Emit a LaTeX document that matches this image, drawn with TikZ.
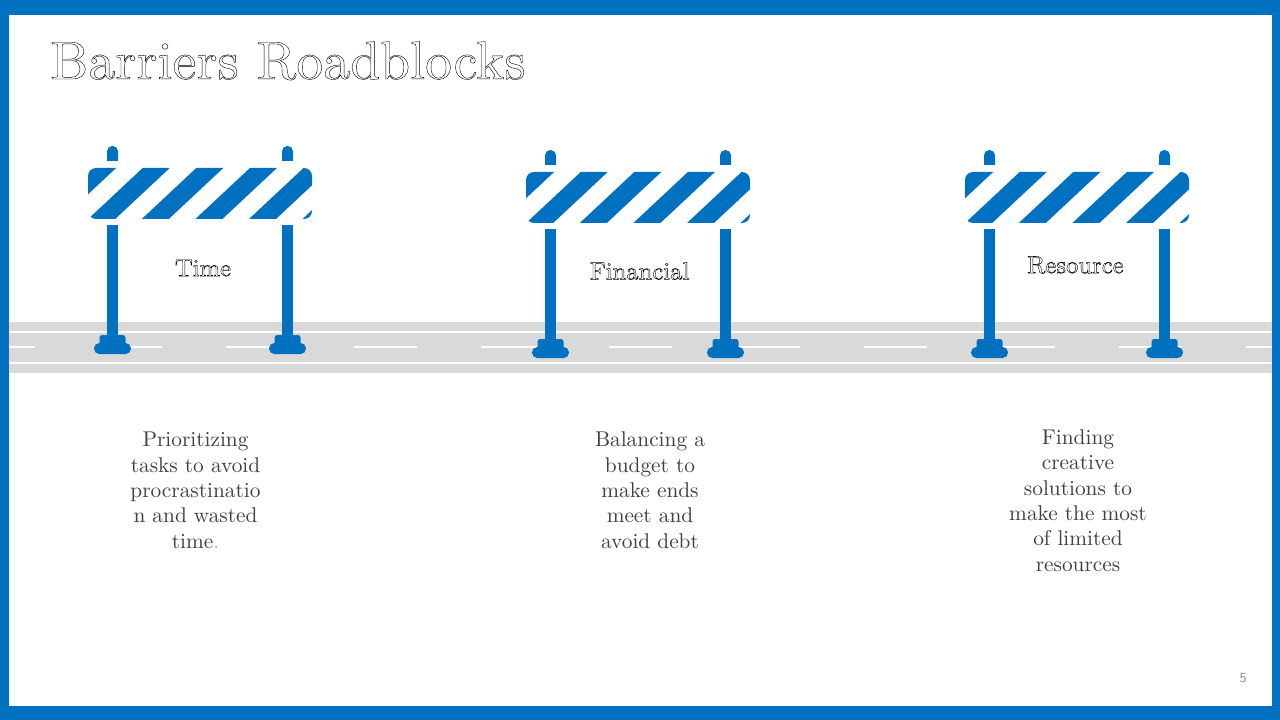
\documentclass[tikz,border=0pt]{standalone}
\usepackage{fontspec}
\setmainfont{Latin Modern Roman}[OpticalSize=10]
\usetikzlibrary{calc}
\definecolor{barblue}{HTML}{0070C0}
\definecolor{roadgray}{HTML}{D9D9D9}
\definecolor{bodygray}{HTML}{404040}
\definecolor{pagegray}{HTML}{898989}
\newcommand{\outlined}[1]{\special{pdf:code q 1 Tr 0.3 w}#1\special{pdf:code Q}}
\tikzset{
  bodytext/.style={align=center,text=bodygray,inner sep=0pt,font=\fontsize{16}{19}\selectfont},
  labeltext/.style={inner sep=0pt,font=\fontsize{18.5}{20}\selectfont},
  bluepart/.style={fill=barblue,draw=none},
  roadline/.style={white,line width=1.5pt},
}
\begin{document}
\begin{tikzpicture}[x=0.75pt,y=-0.75pt]
\useasboundingbox (0,0) rectangle (1280,720);
%frame
\fill[barblue] (0,0) rectangle (1280,720);
\fill[white] (9,15) rectangle (1272,706);
%road
\fill[roadgray] (9,322) rectangle (1272,373);
\draw[roadline] (9,331.5)--(1272,331.5);
\draw[roadline] (9,363)--(1272,363);
\begin{scope}
\clip (9,322) rectangle (1272,373);
\foreach \k in {-1,...,9}{
  \draw[roadline] (-29+127.5*\k+127.5,347)--++(63.5,0);
}
\end{scope}
%barriers
\foreach \bx/\by in {0/0,438/4,877/4}{
\begin{scope}[shift={(\bx,\by)}]
  \foreach \px in {107,282}{
    \fill[bluepart,rounded corners=4pt] (\px,170)--(\px,146)--(\px+11,146)--(\px+11,170)--cycle;
    \fill[white] (\px-1,161) rectangle (\px+12,172);
    \fill[bluepart] (\px,225) rectangle (\px+11,340);
    \fill[bluepart,rounded corners=2pt] (\px-7.5,345)--(\px-7.5,335)--(\px+18.5,335)--(\px+18.5,345)--cycle;
    \fill[bluepart,rounded corners=4pt] (\px-13,354)--(\px-13,343)--(\px+24,343)--(\px+24,354)--cycle;
  }
  \begin{scope}
    \clip[rounded corners=6pt] (88,168) rectangle (312,219);
    \foreach \k in {-1,...,4}{
      \fill[barblue] (142.7+53.6*\k,168)--++(27,0)--++(-54.5,51)--++(-27,0)--cycle;
    }
  \end{scope}
\end{scope}
}
%title
\node[anchor=base west,inner sep=0pt,font=\fontsize{40.4}{42}\selectfont] (title) at (50,79) {\outlined{Barriers Roadblocks}};
%labels
\node[labeltext] (time) at (203,268) {\outlined{Time}};
\node[labeltext] (financial) at (639.5,271) {\outlined{Financial}};
\node[labeltext] (resource) at (1075.5,265) {\outlined{Resource}};
%text below
\node[bodytext,anchor=base] (timetext) at (195.5,548) {Prioritizing\\tasks to avoid\\procrastinatio\\n and wasted\\time\textcolor{black!30}{.}};
\node[bodytext,anchor=base] (financialtext) at (650,548) {Balancing a\\budget to\\make ends\\meet and\\avoid debt};
\node[bodytext,anchor=base] (resourcetext) at (1078,571) {Finding\\creative\\solutions to\\make the most\\of limited\\resources};
\node[text=pagegray,inner sep=0pt,font=\sffamily\fontsize{10.5}{12}\selectfont] (pagenum) at (1243,678) {5};
\end{tikzpicture}
\end{document}
